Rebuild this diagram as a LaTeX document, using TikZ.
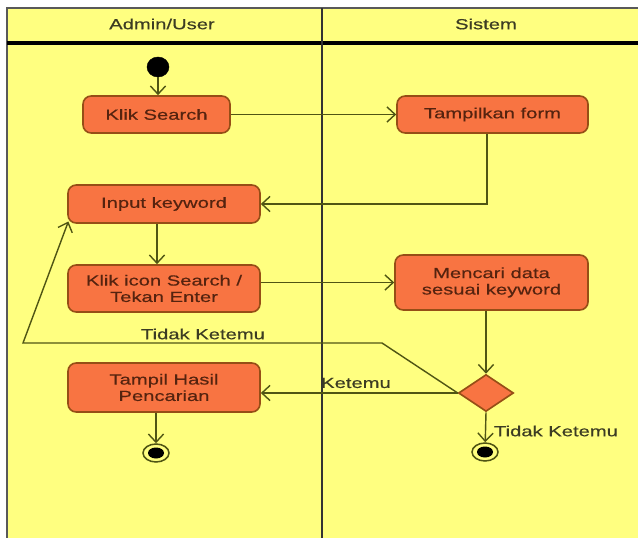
\documentclass[tikz,border=0pt]{standalone}
\usepackage{fontspec}
\setmainfont[FakeStretch=1.38]{Liberation Sans}
\newfontfamily\diagfont[FakeStretch=1.38,FakeBold=0.4]{Liberation Sans}
\usepackage{tikz}
\usetikzlibrary{arrows.meta,positioning,shapes.geometric}
\definecolor{lane}{RGB}{255,255,128}
\definecolor{actfill}{RGB}{248,116,66}
\definecolor{actline}{RGB}{150,78,22}
\definecolor{acttext}{RGB}{85,35,15}
\definecolor{flow}{RGB}{80,85,20}
\definecolor{headtext}{RGB}{60,60,35}

\begin{document}
\begin{tikzpicture}[x=0.03cm,y=-0.03cm,
  act/.style={draw=actline,fill=actfill,rounded corners=7pt,line width=1.4pt,align=center,
    font=\diagfont\fontsize{12.5}{14}\selectfont,text=acttext,inner sep=2pt},
  dec/.style={diamond,draw=actline,fill=actfill,line width=1.4pt,inner sep=0pt,
    minimum width=1.65cm,minimum height=1.11cm},
  startdot/.style={ellipse,fill=black,draw=black,inner sep=0pt,minimum width=0.66cm,minimum height=0.6cm},
  endring/.style={ellipse,draw=flow,fill=lane,line width=1.3pt,inner sep=0pt,minimum width=0.78cm,minimum height=0.54cm},
  enddot/.style={ellipse,fill=black,inner sep=0pt,minimum width=0.48cm,minimum height=0.33cm},
  flw/.style={-{Straight Barb[length=7pt,width=13pt]},draw=flow,line width=1.2pt},
  lbl/.style={text=headtext,font=\diagfont\fontsize{12.5}{14}\selectfont,inner sep=1pt},
  head/.style={text=headtext,font=\diagfont\fontsize{12.5}{14}\selectfont}]
  \useasboundingbox (0,0) rectangle (638,538);
  \clip (0,0) rectangle (638,538);
  \fill[lane] (7,8) rectangle (660,560);
  \draw[gray!70!black,line width=1.6pt] (7,560) -- (7,8) -- (660,8);
  \draw[black,line width=3.4pt] (7,43) -- (660,43);
  \draw[black!80,line width=1.8pt] (322,8) -- (322,560);
  \node[head] (hA) at (162,24) {Admin/User};
  \node[head] (hS) at (486,24) {Sistem};

  \node[startdot] (start) at (158,67) {};
  \node[act,minimum width=4.41cm,minimum height=1.11cm] (ks) at (156.5,114.5) {Klik Search};
  \node[act,minimum width=5.73cm,minimum height=1.11cm] (tf) at (492.5,114.5) {Tampilkan form};
  \node[act,minimum width=5.76cm,minimum height=1.14cm] (ik) at (164,204) {Input keyword};
  \node[act,minimum width=5.76cm,minimum height=1.41cm] (kc) at (164,288.5) {Klik icon Search /\\Tekan Enter};
  \node[act,minimum width=5.79cm,minimum height=1.65cm] (mc) at (491.5,282.5) {Mencari data\\sesuai keyword};
  \node[dec] (dc) at (486,393) {};
  \node[act,minimum width=5.76cm,minimum height=1.47cm] (th) at (164,387.5) {Tampil Hasil\\Pencarian};
  \node[endring] (end1) at (156,453) {};
  \node[enddot] at (end1) {};
  \node[endring] (end2) at (485,452) {};
  \node[enddot] at (end2) {};
  \coordinate (b1) at (382,343);
  \coordinate (b2) at (23,343);

  \draw[flw] (start) -- (start |- ks.north);
  \draw[flw] (ks) -- (tf);
  \draw[flw] ([xshift=-5.5*0.03cm]tf.south) |- (ik.east);
  \draw[flw] (ik.south -| 157,0) -- (kc.north -| 157,0);
  \draw[flw] (kc.east |- mc) -- (mc.west);
  \draw[flw] (mc.south -| dc) -- (dc.north);
  \draw[flw] (dc.west) -- (dc.west -| th.east);
  \draw[flw] (dc.west) -- (b1) -- (b2) -- ([xshift=1pt,yshift=2pt]ik.south west);
  \draw[flw] (dc.south) -- (end2);
  \draw[flw] (th.south -| end1) -- (end1);
  \node[lbl] (lt1) at (203,334) {Tidak Ketemu};
  \node[lbl] (lk) at (356,383) {Ketemu};
  \node[lbl] (lt2) at (556,431) {Tidak Ketemu};
\end{tikzpicture}
\end{document}
